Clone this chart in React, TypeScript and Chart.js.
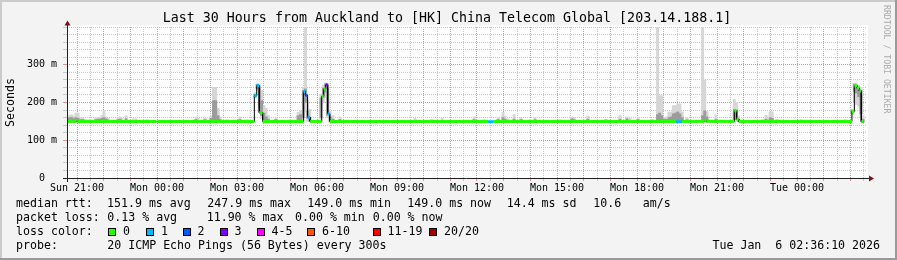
import React, { useEffect, useRef } from 'react';
import { Chart, registerables } from 'chart.js';

Chart.register(...registerables);

// ---------- axis ranges / ticks ----------
const X_MIN = -3.375; // hours relative to Mon 00:00
const X_MAX = 26.625;
const Y_MAX = 400; // ms

const tickHours = [-3, 0, 3, 6, 9, 12, 15, 18, 21, 24];
const tickLabels = ['Sun 21:00', 'Mon 00:00', 'Mon 03:00', 'Mon 06:00', 'Mon 09:00', 'Mon 12:00', 'Mon 15:00', 'Mon 18:00', 'Mon 21:00', 'Tue 00:00'];
const yTickValues = [0, 100, 200, 300];
const yTickLabels = ['0  ', '100 m', '200 m', '300 m'];

// ---------- median rtt (runs: start hour, value ms, loss class) ----------
const medianStart = [-3.375, -3.02, -2.98, -0.02, 0.02, 3.65, 3.74, 3.836, 3.96, 5.49, 5.565, 5.645, 5.74, 6.176, 6.25, 6.326, 6.40, 6.476, 12.41, 12.6, 19.46, 19.69, 20.52, 20.6, 21.65, 21.735, 21.815, 26.06, 26.15, 26.25, 26.335, 26.41];
const medianValue: (number | null)[] = [150, null, 150, null, 150, 218, 245, 173, 150, 229, 219, 161, 150, 217, 236, 247, 170, 150, 149, 150, 149, 150, 153, 150, 178, 156, 150, 176, 244, 238, 231, 149];
const medianLoss = [0, 0, 0, 0, 0, 1, 1, 0, 0, 1, 2, 1, 0, 0, 0, 3, 1, 0, 1, 0, 1, 0, 0, 0, 0, 0, 0, 0, 0, 0, 0, 0];
const medianEnd = 26.5;

// ---------- smoke (ping spread) ----------
const smokeTimes = [
  -3.34, -3.26, -3.19, -3.11, -3.04, -2.96, -2.85, -2.775, -2.66, -2.51,
  -2.29, -2.21, -2.14, -2.06, -1.99, -1.91, -1.84, -1.46, -1.39, -1.31,
  -1.16, -0.9, -0.79, -0.375, 1.46, 1.54, 1.8, 2.025, 2.12, 2.2,
  2.29, 2.36, 2.625, 3.11, 3.375, 3.675, 3.76, 3.84, 3.92, 4.005,
  4.09, 4.17, 4.46, 4.99, 5.29, 5.38, 5.49, 5.57, 5.65, 5.73,
  6.15, 6.24, 6.32, 6.4, 6.49, 6.6, 6.86, 7.16, 9.675, 10.275,
  10.35, 10.69, 11.89, 12.26, 12.79, 12.975, 13.05, 13.16, 13.39, 13.65,
  13.99, 14.175, 15.11, 15.56, 15.64, 16.16, 16.84, 17.36, 17.625, 17.74,
  18.04, 18.56, 18.77, 18.85, 18.93, 19.03, 19.11, 19.2, 19.28, 19.365,
  19.45, 19.53, 19.61, 19.695, 19.875, 20.46, 20.54, 20.625, 20.96, 21.65,
  21.73, 21.81, 22.725, 22.84, 22.99, 23.07, 23.25, 24.15, 25.8, 26.06,
  26.15, 26.23, 26.31, 26.4, 26.475,
];
const smokeRange = [
  [148, 165], [148, 167], [148, 167], [148, 163], [148, 172], [148, 172], [148, 160], [148, 160], [148, 156], [148, 155],
  [148, 160], [148, 160], [148, 161], [148, 166], [148, 178], [148, 162], [148, 158], [148, 160], [148, 162], [148, 158],
  [148, 165], [148, 157], [148, 157], [148, 155], [148, 162], [148, 158], [148, 160], [148, 165], [148, 240], [148, 240],
  [148, 185], [148, 162], [148, 155], [148, 162], [148, 155], [212, 226], [232, 250], [175, 249], [158, 232], [150, 192],
  [148, 185], [148, 166], [148, 160], [148, 155], [148, 174], [148, 178], [150, 240], [175, 400], [150, 205], [148, 182],
  [150, 222], [200, 246], [214, 252], [160, 250], [148, 176], [148, 165], [148, 162], [148, 153], [148, 158], [148, 156],
  [148, 155], [148, 158], [148, 162], [148, 155], [148, 160], [148, 174], [148, 164], [148, 157], [148, 168], [148, 160],
  [148, 155], [148, 160], [148, 155], [148, 162], [148, 160], [148, 164], [148, 155], [148, 166], [148, 162], [148, 158],
  [148, 160], [148, 156], [148, 400], [148, 218], [148, 218], [148, 160], [148, 162], [148, 175], [148, 175], [148, 192],
  [148, 192], [148, 196], [148, 196], [148, 175], [148, 159], [148, 400], [148, 260], [148, 176], [148, 167], [150, 208],
  [150, 200], [148, 165], [148, 155], [148, 166], [148, 175], [148, 175], [148, 156], [148, 155], [148, 155], [168, 182],
  [200, 250], [195, 250], [190, 246], [160, 240], [148, 165],
];
const smokeCore = [
  [148, 158], [148, 160], [148, 160], [148, 157], [148, 160], [148, 158], [148, 155], [148, 155], [148, 152], [148, 152],
  [148, 155], [148, 156], [148, 156], [148, 158], [148, 160], [148, 156], [148, 154], [148, 155], [148, 156], [148, 153],
  [148, 157], [148, 153], [148, 153], [148, 152], [148, 155], [148, 153], [148, 155], [148, 158], [150, 205], [152, 205],
  [150, 165], [148, 155], [148, 152], [148, 155], [148, 152], [215, 222], [236, 248], [185, 242], [165, 205], [152, 172],
  [150, 162], [148, 156], [148, 155], [148, 152], [150, 165], [150, 168], [160, 232], [200, 236], [158, 178], [150, 160],
  [160, 212], [214, 238], [228, 249], [166, 238], [150, 162], [148, 156], [148, 155], [148, 151], [148, 153], [148, 152],
  [148, 152], [148, 153], [148, 155], [148, 152], [148, 155], [150, 160], [148, 156], [148, 153], [148, 156], [148, 155],
  [148, 152], [148, 155], [148, 152], [148, 157], [148, 155], [148, 156], [148, 154], [148, 156], [148, 157], [148, 153],
  [148, 155], [148, 153], [150, 168], [150, 172], [150, 165], [148, 156], [148, 155], [150, 160], [150, 162], [150, 170],
  [150, 172], [150, 175], [150, 170], [150, 160], [148, 154], [150, 165], [152, 178], [150, 162], [148, 155], [155, 182],
  [155, 180], [150, 156], [148, 152], [148, 156], [150, 160], [150, 158], [148, 153], [148, 152], [148, 152], [172, 180],
  [230, 249], [225, 246], [215, 241], [170, 232], [148, 156],
];

// ---------- legend ----------
const lossColors = ['#26ff00', '#00b8ff', '#0059ff', '#7e00ff', '#ff00ff', '#ff5500', '#ff0000', '#a10000'];
const lossLabels = ['0', '1', '2', '3', '4-5', '6-10', '11-19', '20/20'];
const titleText = 'Last 30 Hours from Auckland to [HK] China Telecom Global [203.14.188.1]';
const rttStats = ['151.9 ms avg', '247.9 ms max', '149.0 ms min', '149.0 ms now', '14.4 ms sd', '10.6', 'am/s'];
const lossStats = ['0.13 % avg', '11.90 % max', '0.00 % min', '0.00 % now'];
const probeText = '20 ICMP Echo Pings (56 Bytes) every 300s';
const dateText = 'Tue Jan  6 02:36:10 2026';
const watermark = 'RRDTOOL / TOBI OETIKER';

const MONO = '"DejaVu Sans Mono", monospace';
const MGRID = '#ec9090';
const GRID = '#c8c8c8';

type MPt = { x: number; y: number | null; loss: number };

function buildMedian(): MPt[] {
  const pts: MPt[] = [];
  for (let i = 0; i < medianStart.length; i++) {
    const s = medianStart[i];
    const e = i + 1 < medianStart.length ? medianStart[i + 1] : medianEnd;
    const v = medianValue[i];
    if (v === null) {
      pts.push({ x: s, y: null, loss: 0 });
      continue;
    }
    pts.push({ x: s, y: v, loss: medianLoss[i] }, { x: e, y: v, loss: medianLoss[i] });
  }
  return pts;
}

function isMajorX(v: number) {
  return Math.abs(v - Math.round(v)) < 1e-6;
}
function isMajorY(v: number) {
  return Math.abs(v % 100) < 1e-6 && v < Y_MAX;
}

const decor = {
  id: 'decor',
  beforeDraw(chart: any) {
    const { ctx, width, height, chartArea: a } = chart;
    ctx.save();
    ctx.fillStyle = '#f3f3f3';
    ctx.fillRect(0, 0, width, height);
    ctx.fillStyle = '#cbcbcb';
    ctx.fillRect(0, 0, width, 2);
    ctx.fillRect(0, 0, 2, height);
    ctx.fillStyle = '#9a9a9a';
    ctx.fillRect(0, height - 2, width, 2);
    ctx.fillRect(width - 2, 0, 2, height);
    ctx.fillStyle = '#ffffff';
    ctx.fillRect(a.left, a.top - 2, a.right - a.left + 1, a.bottom - a.top + 2);
    ctx.restore();
  },
  afterDraw(chart: any) {
    const { ctx, chartArea: a } = chart;
    ctx.save();
    // axes
    ctx.strokeStyle = '#202020';
    ctx.lineWidth = 1;
    ctx.beginPath();
    ctx.moveTo(a.left - 4, a.bottom + 0.5);
    ctx.lineTo(a.right + 3, a.bottom + 0.5);
    ctx.moveTo(a.left + 0.5, a.bottom + 4);
    ctx.lineTo(a.left + 0.5, a.top - 3);
    ctx.stroke();
    ctx.fillStyle = '#801010';
    ctx.beginPath();
    ctx.moveTo(a.right + 7, a.bottom + 0.5);
    ctx.lineTo(a.right + 2, a.bottom - 2.5);
    ctx.lineTo(a.right + 2, a.bottom + 3.5);
    ctx.closePath();
    ctx.fill();
    ctx.beginPath();
    ctx.moveTo(a.left + 0.5, a.top - 6.5);
    ctx.lineTo(a.left - 2.5, a.top - 1.5);
    ctx.lineTo(a.left + 3.5, a.top - 1.5);
    ctx.closePath();
    ctx.fill();

    // title
    ctx.fillStyle = '#000';
    ctx.font = `13.3px ${MONO}`;
    ctx.textAlign = 'center';
    ctx.textBaseline = 'middle';
    ctx.fillText(titleText, 447, 19);

    // y axis title
    ctx.save();
    ctx.translate(10.5, 102.5);
    ctx.rotate(-Math.PI / 2);
    ctx.font = `11.6px ${MONO}`;
    ctx.fillText('Seconds', 0, 0);
    ctx.restore();

    // legend
    ctx.font = `11.6px ${MONO}`;
    ctx.textAlign = 'left';
    ctx.textBaseline = 'middle';
    const rows = [204.3, 218.3, 232.3, 246];
    ctx.fillText('median rtt:', 16, rows[0]);
    const rttX = [107, 207.3, 307.3, 407.3, 506.7, 593.3, 642.7];
    rttStats.forEach((s, i) => ctx.fillText(s, rttX[i], rows[0]));
    ctx.fillText('packet loss:', 16, rows[1]);
    const lossX = [107.3, 206.7, 295, 372.7];
    lossStats.forEach((s, i) => ctx.fillText(s, lossX[i], rows[1]));
    ctx.fillText('loss color:', 16, rows[2]);
    const boxX = [108, 146, 182.5, 219.5, 256.5, 307, 372.5, 429];
    lossLabels.forEach((s, i) => {
      const bx = Math.round(boxX[i]);
      const by = Math.round(rows[2] - 4);
      ctx.fillStyle = lossColors[i];
      ctx.fillRect(bx, by, 8, 8);
      ctx.strokeStyle = '#000';
      ctx.strokeRect(bx + 0.5, by + 0.5, 7, 7);
      ctx.fillStyle = '#000';
      ctx.fillText(s, boxX[i] + 15, rows[2]);
    });
    ctx.fillText('probe:', 16, rows[3]);
    ctx.fillText(probeText, 107.3, rows[3]);
    ctx.textAlign = 'right';
    ctx.fillText(dateText, 880, rows[3]);

    // watermark
    ctx.save();
    ctx.translate(886.5, 5);
    ctx.rotate(Math.PI / 2);
    ctx.font = `8.2px ${MONO}`;
    ctx.fillStyle = '#ababab';
    ctx.textAlign = 'left';
    ctx.textBaseline = 'middle';
    ctx.fillText(watermark, 0, 0);
    ctx.restore();

    ctx.restore();
  },
};

export default function App() {
  const ref = useRef<HTMLCanvasElement | null>(null);

  useEffect(() => {
    document.body.style.margin = '0';
    const canvas = ref.current;
    if (!canvas) return;
    const median = buildMedian();

    const chart = new Chart(canvas, {
      type: 'bar',
      data: {
        datasets: [
          {
            type: 'line',
            data: median as any,
            borderColor: lossColors[0],
            borderWidth: 3,
            borderCapStyle: 'butt',
            borderJoinStyle: 'miter',
            pointRadius: 0,
            pointHoverRadius: 0,
            tension: 0,
            spanGaps: false,
            order: 0,
            segment: {
              borderColor: (c: any) => {
                const p0 = median[c.p0DataIndex];
                const p1 = median[c.p1DataIndex];
                if (!p0 || !p1 || p0.x === p1.x) return 'rgba(0,0,0,0)';
                return lossColors[p0.loss];
              },
            },
          } as any,
          {
            type: 'line',
            data: median as any,
            borderColor: '#000000',
            borderWidth: 1,
            pointRadius: 0,
            pointHoverRadius: 0,
            tension: 0,
            spanGaps: false,
            order: 1,
          } as any,
          {
            type: 'bar',
            data: smokeTimes.map((t, i) => ({ x: t, y: smokeCore[i] })) as any,
            backgroundColor: '#9c9c9c',
            borderWidth: 0,
            barThickness: 2.3,
            grouped: false,
            order: 2,
          } as any,
          {
            type: 'bar',
            data: smokeTimes.map((t, i) => ({ x: t, y: smokeRange[i] })) as any,
            backgroundColor: '#d6d6d6',
            borderWidth: 0,
            barThickness: 2.3,
            grouped: false,
            order: 3,
          } as any,
        ],
      },
      options: {
        animation: false,
        responsive: false,
        devicePixelRatio: 1,
        events: [],
        layout: { padding: { left: 0, right: 30, top: 27, bottom: 0 } },
        plugins: {
          legend: { display: false },
          tooltip: { enabled: false },
          title: { display: false },
        },
        scales: {
          x: {
            type: 'linear',
            min: X_MIN,
            max: X_MAX,
            offset: false,
            afterFit: (s: any) => {
              s.height = 82;
            },
            afterBuildTicks: (s: any) => {
              const t: { value: number }[] = [];
              for (let h = -3; h <= 26.5; h += 0.5) t.push({ value: h });
              s.ticks = t;
            },
            ticks: {
              autoSkip: false,
              maxRotation: 0,
              minRotation: 0,
              padding: 1,
              color: '#000',
              font: { family: 'DejaVu Sans Mono', size: 10 },
              callback: (v: any) => {
                const i = tickHours.indexOf(Number(v));
                return i >= 0 ? tickLabels[i] : '';
              },
            },
            grid: {
              offset: false,
              lineWidth: 1,
              color: (c: any) => (c.tick && isMajorX(c.tick.value) ? MGRID : GRID),
              tickColor: (c: any) => (c.tick && isMajorX(c.tick.value) ? MGRID : GRID),
              tickLength: 3,
            },
            border: { display: false, dash: [1, 1] },
          },
          y: {
            type: 'linear',
            min: 0,
            max: Y_MAX,
            afterFit: (s: any) => {
              s.width = 67;
            },
            afterBuildTicks: (s: any) => {
              const t: { value: number }[] = [];
              for (let v = 0; v <= Y_MAX; v += 20) t.push({ value: v });
              s.ticks = t;
            },
            ticks: {
              autoSkip: false,
              padding: 6,
              color: '#000',
              font: { family: 'DejaVu Sans Mono', size: 10 },
              callback: (v: any) => {
                const i = yTickValues.indexOf(Number(v));
                return i >= 0 ? yTickLabels[i] : '';
              },
            },
            grid: {
              lineWidth: 1,
              color: (c: any) => (c.tick && isMajorY(c.tick.value) ? MGRID : GRID),
              tickColor: (c: any) => (c.tick && isMajorY(c.tick.value) ? MGRID : GRID),
              tickLength: 4,
            },
            border: { display: false, dash: [1, 1] },
          },
        },
      } as any,
      plugins: [decor],
    });

    return () => {
      chart.destroy();
    };
  }, []);

  return <canvas ref={ref} width={897} height={260} style={{ display: 'block' }} />;
}
